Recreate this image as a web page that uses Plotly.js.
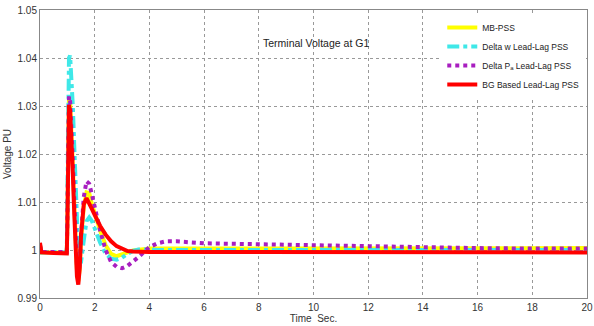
<!DOCTYPE html>
<html>
<head>
<meta charset="utf-8">
<script src="https://cdn.plot.ly/plotly-3.0.1.min.js"></script>
<style>html,body{margin:0;padding:0;background:#fff;}#chart{width:594px;height:326px;}</style>
</head>
<body>
<div id="chart"></div>
<script>
// Time axis (seconds)
const time = [0, 0.05, 0.5, 0.98, 1.0, 1.03, 1.06, 1.1, 1.15, 1.2, 1.25, 1.3, 1.35, 1.4, 1.45, 1.5, 1.6, 1.7, 1.8, 1.9, 2.0, 2.2, 2.4, 2.6, 2.8, 3.0, 3.2, 3.4, 3.6, 3.8, 4.0, 4.3, 4.6, 5.0, 5.5, 6, 7, 8, 10, 12, 14, 16, 18, 20];

// Terminal voltage (PU) per stabiliser
const mbPss = [1.0010, 0.9995, 0.9995, 0.9995, 1.0050, 1.0280, 1.0320, 1.0310, 1.0260, 1.0180, 1.0100, 1.0020, 0.9960, 0.9935, 0.9960, 1.0020, 1.0090, 1.0120, 1.0118, 1.0095, 1.0075, 1.0040, 1.0010, 0.9992, 0.9987, 0.9990, 0.9995, 0.9999, 1.0001, 1.0002, 1.0003, 1.0003, 1.0003, 1.0003, 1.0003, 1.0004, 1.0004, 1.0004, 1.0004, 1.0004, 1.0004, 1.0004, 1.0004, 1.0004];
const deltaW = [1.0005, 0.9995, 0.9996, 0.9995, 1.0100, 1.0300, 1.0400, 1.0405, 1.0360, 1.0300, 1.0220, 1.0130, 1.0050, 0.9990, 0.9970, 0.9975, 1.0020, 1.0060, 1.0068, 1.0060, 1.0045, 1.0015, 0.9992, 0.9982, 0.9980, 0.9984, 0.9992, 0.9998, 1.0001, 1.0002, 1.0001, 1.0000, 1.0000, 1.0000, 1.0000, 1.0000, 1.0000, 1.0000, 1.0000, 1.0000, 1.0000, 1.0000, 1.0000, 1.0000];
const deltaPa = [1.0010, 0.9996, 0.9996, 0.9996, 1.0060, 1.0280, 1.0320, 1.0310, 1.0260, 1.0190, 1.0110, 1.0030, 0.9970, 0.9945, 0.9970, 1.0030, 1.0110, 1.0143, 1.0138, 1.0115, 1.0090, 1.0040, 1.0000, 0.9975, 0.9965, 0.9962, 0.9967, 0.9975, 0.9985, 0.9996, 1.0006, 1.0014, 1.0018, 1.0018, 1.0016, 1.0014, 1.0013, 1.0012, 1.0009, 1.0006, 1.0005, 1.0004, 1.0003, 1.0003];
const bgBased = [1.0015, 0.9995, 0.9994, 0.9993, 1.0050, 1.0300, 1.0302, 1.0290, 1.0240, 1.0160, 1.0080, 1.0000, 0.9945, 0.9928, 0.9960, 1.0030, 1.0095, 1.0108, 1.0098, 1.0085, 1.0073, 1.0050, 1.0032, 1.0018, 1.0008, 1.0002, 0.9998, 0.9997, 0.9996, 0.9996, 0.9996, 0.9996, 0.9996, 0.9996, 0.9996, 0.9996, 0.9996, 0.9996, 0.9996, 0.9995, 0.9995, 0.9995, 0.9995, 0.9995];

const seriesNames = ["MB-PSS", "Delta w Lead-Lag PSS", "Delta P<sub>a</sub> Lead-Lag PSS", "BG Based Lead-Lag PSS"];
const xTicks = [0, 2, 4, 6, 8, 10, 12, 14, 16, 18, 20];
const yTicks = [0.99, 1.0, 1.01, 1.02, 1.03, 1.04, 1.05];
const yTickText = ["0.99", "1", "1.01", "1.02", "1.03", "1.04", "1.05"];

const traces = [
  {x: time, y: mbPss, name: seriesNames[0], mode: "lines", line: {color: "#FFFF00", width: 4}},
  {x: time, y: deltaW, name: seriesNames[1], mode: "lines", line: {color: "#3FE8E8", width: 4, dash: "dashdot"}},
  {x: time, y: deltaPa, name: seriesNames[2], mode: "lines", line: {color: "#A81EC0", width: 4, dash: "dot"}},
  {x: time, y: bgBased, name: seriesNames[3], mode: "lines", line: {color: "#FF0000", width: 4}}
];

const axisFont = {family: "Liberation Sans, Arial, sans-serif", size: 10, color: "#333"};

const layout = {
  width: 594, height: 326,
  margin: {l: 40, r: 7, t: 10, b: 28},
  paper_bgcolor: "#fff", plot_bgcolor: "#fff",
  showlegend: true,
  font: axisFont,
  xaxis: {
    range: [0, 20], tickvals: xTicks, ticks: "", showgrid: true,
    gridcolor: "#999", griddash: "dot", gridwidth: 1,
    showline: true, linecolor: "#888", linewidth: 1, mirror: true,
    zeroline: false, tickfont: axisFont, automargin: false, ticklabeloverflow: "allow",
    title: {text: "Time  Sec.", font: axisFont, standoff: 2}
  },
  yaxis: {
    range: [0.99, 1.05], tickvals: yTicks, ticktext: yTickText, ticks: "", showgrid: true,
    gridcolor: "#999", griddash: "dot", gridwidth: 1,
    showline: true, linecolor: "#888", linewidth: 1, mirror: true,
    zeroline: false, tickfont: axisFont, automargin: false,
    title: {text: "Voltage PU", font: axisFont, standoff: 4}
  },
  legend: {
    x: 0.995, y: 0.99, xanchor: "right", yanchor: "top",
    bgcolor: "#fff", borderwidth: 0,
    font: {family: "Liberation Sans, Arial, sans-serif", size: 8.5, color: "#222"},
    itemwidth: 30, tracegroupgap: 0
  },
  annotations: [{
    text: "Terminal Voltage at G1", xref: "paper", yref: "paper",
    x: 0.505, y: 0.885, xanchor: "center", yanchor: "middle", showarrow: false,
    font: {family: "Liberation Sans, Arial, sans-serif", size: 10.5, color: "#222"}
  }]
};

Plotly.newPlot("chart", traces, layout, {displayModeBar: false, staticPlot: true});
</script>
</body>
</html>
